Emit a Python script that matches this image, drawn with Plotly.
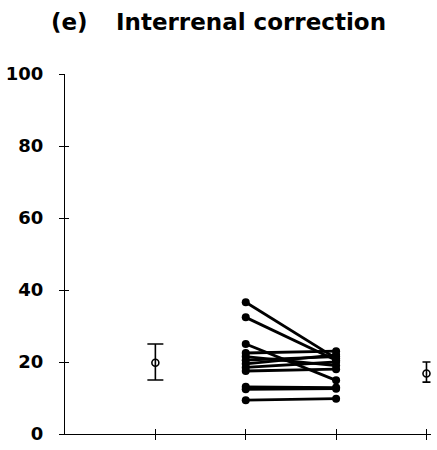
import plotly.graph_objects as go

# ---- data ----
pair_x = [2, 3]
before = [36.6, 32.4, 25.0, 22.5, 21.5, 20.5, 19.5, 18.5, 17.5, 13.1, 12.4, 9.4]
after = [21.0, 20.5, 14.9, 23.0, 19.0, 21.5, 22.0, 20.0, 18.0, 12.9, 12.6, 9.8]

left_x = [1]
left_mean = [19.8]
left_plus = [5.2]
left_minus = [4.8]

right_x = [4]
right_mean = [16.8]
right_plus = [3.2]
right_minus = [2.4]

y_ticks = [0, 20, 40, 60, 80, 100]
x_ticks = [1, 2, 3, 4]

title_tag = "(e)"
title_text = "Interrenal correction"

FONT = "DejaVu Sans"

fig = go.Figure()

for b, a in zip(before, after):
    fig.add_trace(go.Scatter(
        x=pair_x, y=[b, a], mode="lines+markers",
        line=dict(color="black", width=2.8),
        marker=dict(color="black", size=8),
        showlegend=False, hoverinfo="skip"))

fig.add_trace(go.Scatter(
    x=left_x, y=left_mean, mode="markers",
    marker=dict(symbol="circle-open", color="black", size=7, line=dict(width=1.6)),
    error_y=dict(type="data", symmetric=False, array=left_plus, arrayminus=left_minus,
                 color="black", thickness=1.6, width=8),
    showlegend=False))

fig.add_trace(go.Scatter(
    x=right_x, y=right_mean, mode="markers",
    marker=dict(symbol="circle-open", color="black", size=7, line=dict(width=1.6)),
    error_y=dict(type="data", symmetric=False, array=right_plus, arrayminus=right_minus,
                 color="black", thickness=1.6, width=4),
    showlegend=False))

xr = [0, 4.05]
yr = [0, 100]

# invisible trace so the overlay axes (used for crossing tick marks) get drawn
fig.add_trace(go.Scatter(x=right_x, y=right_mean, xaxis="x2", yaxis="y2", mode="markers",
                         marker=dict(opacity=0), showlegend=False, hoverinfo="skip"))

fig.update_layout(
    width=437, height=450,
    margin=dict(l=64, r=6, t=74, b=13),
    paper_bgcolor="white", plot_bgcolor="white",
    font=dict(family=FONT, color="black"),
    xaxis=dict(range=xr, showgrid=False, zeroline=False, showline=True,
               linecolor="black", linewidth=1.3, tickvals=x_ticks, ticks="outside",
               ticklen=5, tickwidth=1.3, tickcolor="black", showticklabels=False),
    yaxis=dict(range=yr, showgrid=False, zeroline=False, showline=True,
               linecolor="black", linewidth=1.3, tickvals=y_ticks, ticks="outside",
               ticklen=5, tickwidth=1.3, tickcolor="black",
               tickfont=dict(family=FONT, size=18, color="black", weight="bold"),
               ticklabelstandoff=12),
    xaxis2=dict(range=xr, overlaying="x", anchor="y2", side="bottom", showgrid=False,
                zeroline=False, showline=False, tickvals=x_ticks, ticks="inside", ticklen=5,
                tickwidth=1.3, tickcolor="black", showticklabels=False),
    yaxis2=dict(range=yr, overlaying="y", anchor="x2", side="left", showgrid=False,
                zeroline=False, showline=False, tickvals=y_ticks, ticks="inside", ticklen=4,
                tickwidth=1.3, tickcolor="black", showticklabels=False),
)

fig.add_annotation(text=title_tag, xref="paper", yref="paper",
                   x=(48 - 64) / 367, y=1 + 52 / 362.7, xanchor="left", yanchor="middle",
                   showarrow=False, font=dict(family=FONT, size=23, color="black", weight="bold"))
fig.add_annotation(text=title_text, xref="paper", yref="paper",
                   x=(113 - 64) / 367, y=1 + 52 / 362.7, xanchor="left", yanchor="middle",
                   showarrow=False, font=dict(family=FONT, size=23, color="black", weight="bold"))

fig.write_html("out.html")
